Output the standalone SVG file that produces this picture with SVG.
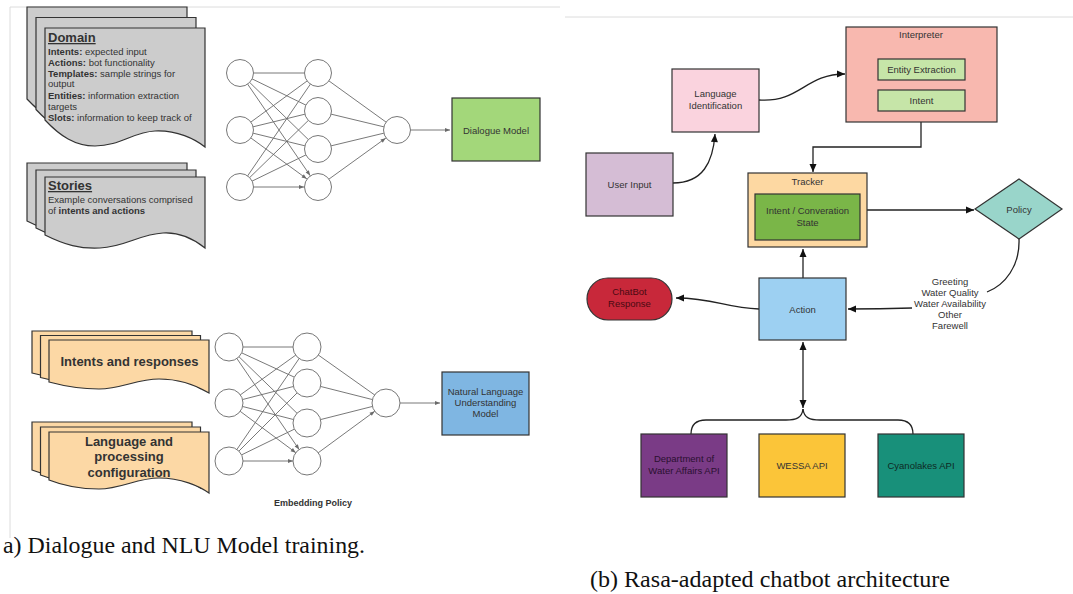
<svg xmlns="http://www.w3.org/2000/svg" xmlns:xlink="http://www.w3.org/1999/xlink" width="1073" height="594" viewBox="0 0 1073 594">
<style>
.t{font-family:"Liberation Sans",Arial,sans-serif;fill:#333;}
.s{font-size:9.5px;}
.b{font-weight:bold;}
.c{text-anchor:middle;}
.nn{stroke:#6a6a6a;stroke-width:0.9;fill:none;marker-end:url(#nna);}
.nc{fill:#fff;stroke:#777;stroke-width:1;}
.cn{stroke:#222;stroke-width:1.3;fill:none;}
.box{stroke:#333;stroke-width:1.2;}
.cap{font-family:"Liberation Serif","Times New Roman",serif;font-size:23.5px;fill:#111;}
.gray{fill:#cccccc;stroke:#333;stroke-width:1.2;}
.beige{fill:#fcd8a5;stroke:#333;stroke-width:1.2;}
</style>
<defs>
<marker id="nna" markerUnits="userSpaceOnUse" markerWidth="20" markerHeight="10" viewBox="-20 -5 20 10" refX="0" refY="0" orient="auto" overflow="visible"><path d="M-14,0 L-19,-2 L-19,2 Z" fill="#6a6a6a"/></marker>
<marker id="nn0" markerUnits="userSpaceOnUse" markerWidth="10" markerHeight="10" viewBox="-10 -5 10 10" refX="0" refY="0" orient="auto" overflow="visible"><path d="M0,0 L-5,-2 L-5,2 Z" fill="#6a6a6a"/></marker>
<marker id="ar" markerUnits="userSpaceOnUse" markerWidth="10" markerHeight="10" viewBox="-10 -5 10 10" refX="0" refY="0" orient="auto-start-reverse" overflow="visible"><path d="M0,0 L-8,-3.5 L-8,3.5 Z" fill="#111"/></marker>
<path id="docA" d="M0,0 H160 V119 C150,111 132,102 110,103 C88,104 75,118 50,118 C30,118 15,108 0,92 Z"/>
<path id="docB" d="M0,0 H160 V71 C150,63 135,55 118,56 C95,57 80,70 55,71 C35,72 20,68 0,58 Z"/>
<path id="docC" d="M0,0 H160 V53 C150,47 132,39 110,39 C88,39 72,49 50,49 C30,49 15,46 0,42 Z"/>
<path id="docD" d="M0,0 H160 V61 C150,54 132,46 110,46 C88,46 72,57 50,57 C30,57 15,54 0,48 Z"/>
</defs>
<rect width="1073" height="594" fill="#fff"/>
<!-- panel frames -->
<path d="M10,7 H560 M10,7 V538" stroke="#dcdcdc" stroke-width="1" fill="none"/>
<path d="M565,17 H1073" stroke="#dcdcdc" stroke-width="1" fill="none"/>

<g id="domain">
<use xlink:href="#docA" class="gray" transform="translate(27,7)"/>
<use xlink:href="#docA" class="gray" transform="translate(36,17.5)"/>
<use xlink:href="#docA" class="gray" transform="translate(45,28)"/>
<text class="t b" x="48" y="42" font-size="13" text-decoration="underline">Domain</text>
<text class="t s" x="48" y="55"><tspan class="b">Intents:</tspan> expected input</text>
<text class="t s" x="48" y="66"><tspan class="b">Actions:</tspan> bot functionality</text>
<text class="t s" x="48" y="77"><tspan class="b">Templates:</tspan> sample strings for</text>
<text class="t s" x="48" y="87">output</text>
<text class="t s" x="48" y="99"><tspan class="b">Entities:</tspan> information extraction</text>
<text class="t s" x="48" y="110">targets</text>
<text class="t s" x="48" y="121"><tspan class="b">Slots:</tspan> information to keep track of</text>
</g>
<g id="stories">
<use xlink:href="#docB" class="gray" transform="translate(27,163)"/>
<use xlink:href="#docB" class="gray" transform="translate(36,170)"/>
<use xlink:href="#docB" class="gray" transform="translate(45,177)"/>
<text class="t b" x="48" y="190" font-size="13" text-decoration="underline">Stories</text>
<text class="t s" x="48" y="203">Example conversations comprised</text>
<text class="t s" x="48" y="214">of <tspan class="b">intents and actions</tspan></text>
</g>
<g id="intents-responses">
<use xlink:href="#docC" class="beige" transform="translate(32,331)"/>
<use xlink:href="#docC" class="beige" transform="translate(40.5,335.5)"/>
<use xlink:href="#docC" class="beige" transform="translate(49,340)"/>
<text class="t b c" x="129.5" y="366" font-size="13" fill="#222">Intents and responses</text>
</g>
<g id="language-config">
<use xlink:href="#docD" class="beige" transform="translate(32,422)"/>
<use xlink:href="#docD" class="beige" transform="translate(40.5,427)"/>
<use xlink:href="#docD" class="beige" transform="translate(49,432)"/>
<text class="t b c" x="129" y="445.5" font-size="13">Language and</text>
<text class="t b c" x="129" y="461" font-size="13">processing</text>
<text class="t b c" x="129" y="476.5" font-size="13">configuration</text>
</g>

<g id="connectors">
<!-- top network -->
<path class="nn" d="M240,73 L318,73 M240,73 L318,111 M240,73 L318,149 M240,73 L318,187"/>
<path class="nn" d="M240,130 L318,73 M240,130 L318,111 M240,130 L318,149 M240,130 L318,187"/>
<path class="nn" d="M240,187 L318,73 M240,187 L318,111 M240,187 L318,149 M240,187 L318,187"/>
<path class="nn" d="M318,73 L397,130 M318,111 L397,130 M318,149 L397,130 M318,187 L397,130"/>
<path d="M410,130 L450,130" stroke="#6a6a6a" stroke-width="0.9" marker-end="url(#nn0)"/>
<!-- bottom network -->
<path class="nn" d="M229,347 L307,347 M229,347 L307,383 M229,347 L307,423 M229,347 L307,461"/>
<path class="nn" d="M229,403 L307,347 M229,403 L307,383 M229,403 L307,423 M229,403 L307,461"/>
<path class="nn" d="M229,461 L307,347 M229,461 L307,383 M229,461 L307,423 M229,461 L307,461"/>
<path class="nn" d="M307,347 L386,403 M307,383 L386,403 M307,423 L386,403 M307,461 L386,403"/>
<path d="M400,403 L440,403" stroke="#6a6a6a" stroke-width="0.9" marker-end="url(#nn0)"/>
<!-- right architecture -->
<path class="cn" d="M673,183 C703,183 713,162 715,134" marker-end="url(#ar)"/>
<path class="cn" d="M759,100 C800,103 805,74 845,74" marker-end="url(#ar)"/>
<path class="cn" d="M921,122 V147 H813 V172" marker-end="url(#ar)"/>
<path class="cn" d="M867,210 H974" marker-end="url(#ar)"/>
<path class="cn" d="M1019,239 C1020,266 1005,285 987,292"/>
<path class="cn" d="M912,308 C880,309 865,309 848,309" marker-end="url(#ar)"/>
<path class="cn" d="M803,278 V249" marker-end="url(#ar)"/>
<path class="cn" d="M759,309 C725,308 715,298 676,298" marker-end="url(#ar)"/>
<path class="cn" d="M803,342 V408" marker-start="url(#ar)" marker-end="url(#ar)"/>
<path class="cn" d="M803,409 C802,418 796,420 786,420 H706 C696,420 691,425 691,434"/>
<path class="cn" d="M803,409 C804,418 810,420 820,420 H898 C908,420 913,425 913,434"/>
</g>

<g id="nn-top">
<circle class="nc" cx="240" cy="73" r="13.5"/>
<circle class="nc" cx="240" cy="130" r="13.5"/>
<circle class="nc" cx="240" cy="187" r="13.5"/>
<circle class="nc" cx="318" cy="73" r="13.5"/>
<circle class="nc" cx="318" cy="111" r="13.5"/>
<circle class="nc" cx="318" cy="149" r="13.5"/>
<circle class="nc" cx="318" cy="187" r="13.5"/>
<circle class="nc" cx="397" cy="130" r="13.5"/>
</g>
<g id="dialogue-model">
<rect class="box" x="452" y="98" width="88" height="63" fill="#a3d77a"/>
<text class="t s c" x="496" y="133.5">Dialogue Model</text>
</g>
<g id="nn-bottom">
<circle class="nc" cx="229" cy="347" r="14"/>
<circle class="nc" cx="229" cy="403" r="14"/>
<circle class="nc" cx="229" cy="461" r="14"/>
<circle class="nc" cx="307" cy="347" r="14"/>
<circle class="nc" cx="307" cy="383" r="14"/>
<circle class="nc" cx="307" cy="423" r="14"/>
<circle class="nc" cx="307" cy="461" r="14"/>
<circle class="nc" cx="386" cy="403" r="14"/>
</g>
<g id="nlu-model">
<rect class="box" x="442" y="372" width="87" height="63" fill="#7fb6e2"/>
<text class="t s c" x="485.5" y="394.5">Natural Language</text>
<text class="t s c" x="485.5" y="405.5">Understanding</text>
<text class="t s c" x="485.5" y="417">Model</text>
</g>
<g id="embedding-policy">
<text class="t b c" x="313" y="506" font-size="9">Embedding Policy</text>
</g>

<g id="user-input">
<rect class="box" x="586" y="153" width="87" height="63" fill="#d5bdd5"/>
<text class="t s c" x="629.5" y="188">User Input</text>
</g>
<g id="language-identification">
<rect class="box" x="672" y="69" width="87" height="63" fill="#fad3de"/>
<text class="t s c" x="715.5" y="97">Language</text>
<text class="t s c" x="715.5" y="109">Identification</text>
</g>
<g id="interpreter">
<rect class="box" x="846" y="27" width="151" height="95" fill="#f8b8af"/>
<text class="t s c" x="921" y="38">Interpreter</text>
<rect class="box" x="878" y="59" width="87" height="21" fill="#c6e5a8"/>
<text class="t s c" x="921.5" y="73">Entity Extraction</text>
<rect class="box" x="878" y="90" width="87" height="21" fill="#c6e5a8"/>
<text class="t s c" x="921.5" y="104">Intent</text>
</g>
<g id="tracker">
<rect class="box" x="748" y="173" width="119" height="74" fill="#fdd8a2"/>
<text class="t s c" x="807.5" y="184.5">Tracker</text>
<rect class="box" x="755" y="194" width="105" height="46" fill="#7ab648"/>
<text class="t s c" x="807.5" y="214">Intent / Converation</text>
<text class="t s c" x="807.5" y="225.5">State</text>
</g>
<g id="policy">
<path class="box" d="M975,209 L1019,179 L1062,209 L1019,239 Z" fill="#99d5ca"/>
<text class="t s c" x="1019" y="212.5">Policy</text>
</g>
<g id="intent-labels">
<text class="t s c" x="950" y="284.5">Greeting</text>
<text class="t s c" x="950" y="295.5">Water Quality</text>
<text class="t s c" x="950" y="306.5">Water Availability</text>
<text class="t s c" x="950" y="317.5">Other</text>
<text class="t s c" x="950" y="329">Farewell</text>
</g>
<g id="action">
<rect class="box" x="759" y="278" width="87" height="62" fill="#9dd0f2"/>
<text class="t s c" x="802.5" y="312.5">Action</text>
</g>
<g id="chatbot-response">
<rect class="box" x="587" y="278" width="85" height="42" rx="21" fill="#c8283a"/>
<text class="t s c" x="629.5" y="295" style="fill:#4a0a12">ChatBot</text>
<text class="t s c" x="629.5" y="306.5" style="fill:#4a0a12">Response</text>
</g>
<g id="dwa-api">
<rect class="box" x="641" y="434" width="86" height="63" fill="#7a3b86"/>
<text class="t s c" x="684" y="462" style="fill:#2a1030">Department of</text>
<text class="t s c" x="684" y="473.5" style="fill:#2a1030">Water Affairs API</text>
</g>
<g id="wessa-api">
<rect class="box" x="759" y="434" width="86" height="63" fill="#fbc539"/>
<text class="t s c" x="802" y="468.5">WESSA API</text>
</g>
<g id="cyanolakes-api">
<rect class="box" x="878" y="434" width="86" height="63" fill="#18907a"/>
<text class="t s c" x="921" y="468.5" style="fill:#0e2a24">Cyanolakes API</text>
</g>

<text class="cap" x="3" y="553" textLength="362" lengthAdjust="spacingAndGlyphs">a) Dialogue and NLU Model training.</text>
<text class="cap" x="590" y="587" textLength="360" lengthAdjust="spacingAndGlyphs">(b) Rasa-adapted chatbot architecture</text>
</svg>
